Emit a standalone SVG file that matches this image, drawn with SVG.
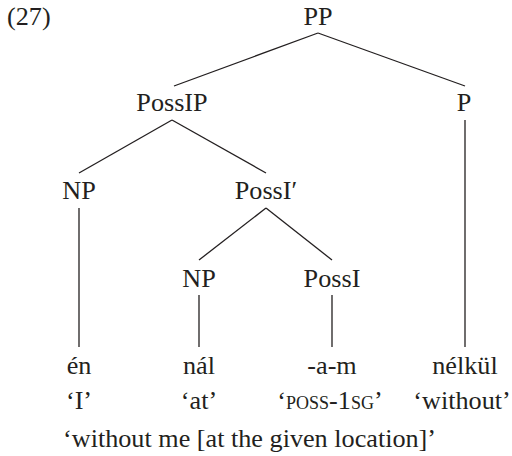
<svg xmlns="http://www.w3.org/2000/svg" width="512" height="456" viewBox="0 0 512 456">
  <style>
    text { font-family: "Liberation Serif", "Times New Roman", serif; font-size: 26.2px; fill: #231f20; text-anchor: middle; }
    .sc { font-variant: small-caps; }
    .edges line { stroke: #231f20; stroke-width: 1.3; }
  </style>
  <rect width="512" height="456" fill="#ffffff"/>
  <text x="7" y="25" style="text-anchor:start">(27)</text>

  <g class="edges" id="connectors">
    <line x1="318" y1="33" x2="174" y2="86"/>
    <line x1="318" y1="33" x2="465" y2="86"/>
    <line x1="172" y1="120" x2="79" y2="173"/>
    <line x1="172" y1="120" x2="266" y2="173"/>
    <line x1="465" y1="120" x2="465" y2="347"/>
    <line x1="79" y1="208" x2="79" y2="347"/>
    <line x1="266" y1="208" x2="199" y2="260"/>
    <line x1="266" y1="208" x2="332" y2="260"/>
    <line x1="199" y1="295" x2="199" y2="347"/>
    <line x1="332" y1="295" x2="332" y2="347"/>
  </g>

  <g id="pp"><text x="318" y="25">PP</text></g>
  <g id="possip"><text x="172" y="111">PossIP</text></g>
  <g id="p"><text x="464" y="111">P</text></g>
  <g id="np1"><text x="79" y="199">NP</text></g>
  <g id="possibar"><text x="266" y="199">PossI′</text></g>
  <g id="np2"><text x="199" y="287">NP</text></g>
  <g id="possi"><text x="332" y="287">PossI</text></g>

  <g id="en"><text x="79" y="374">én</text><text x="79" y="409">‘I’</text></g>
  <g id="nal"><text x="199" y="374">nál</text><text x="199" y="409">‘at’</text></g>
  <g id="am"><text x="332" y="374">-a-m</text><text x="330" y="409">‘<tspan class="sc">poss</tspan>-1<tspan class="sc">sg</tspan>’</text></g>
  <g id="nelkul"><text x="465" y="374">nélkül</text><text x="462" y="409">‘without’</text></g>

  <text x="63" y="447" style="text-anchor:start">‘without me [at the given location]’</text>
</svg>
